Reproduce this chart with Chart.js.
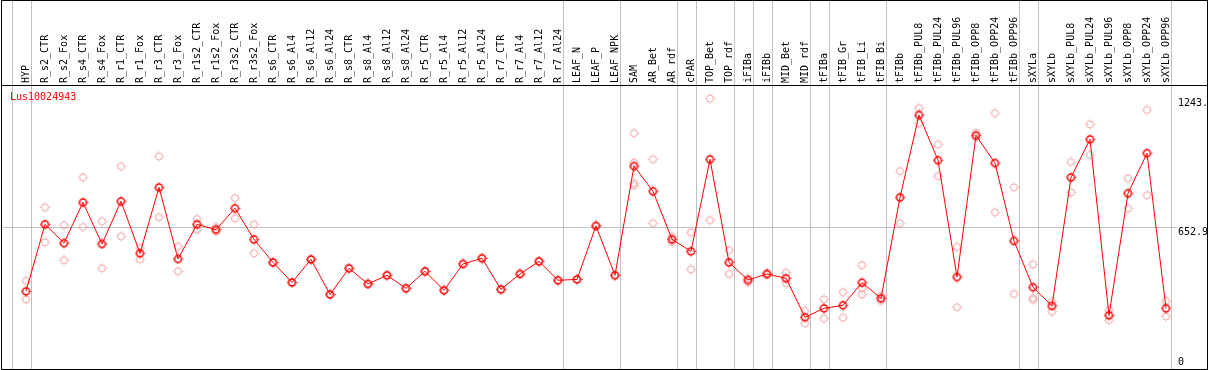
<!DOCTYPE html>
<html>
<head>
<meta charset="utf-8">
<script src="https://cdn.jsdelivr.net/npm/chart.js@4.4.0/dist/chart.umd.min.js"></script>
<style>
  html, body { margin: 0; padding: 0; background: #fff; }
</style>
</head>
<body>
<canvas id="grafico" width="1209" height="370"></canvas>
<script>
const titulo = 'Lus10024943';

const muestras = [
    'HYP', 'R_s2_CTR', 'R_s2_Fox', 'R_s4_CTR', 'R_s4_Fox', 'R_r1_CTR', 'R_r1_Fox',
    'R_r3_CTR', 'R_r3_Fox', 'R_r1s2_CTR', 'R_r1s2_Fox', 'R_r3s2_CTR', 'R_r3s2_Fox',
    'R_s6_CTR', 'R_s6_Al4', 'R_s6_Al12', 'R_s6_Al24', 'R_s8_CTR', 'R_s8_Al4', 'R_s8_Al12',
    'R_s8_Al24', 'R_r5_CTR', 'R_r5_Al4', 'R_r5_Al12', 'R_r5_Al24', 'R_r7_CTR', 'R_r7_Al4',
    'R_r7_Al12', 'R_r7_Al24', 'LEAF_N', 'LEAF_P', 'LEAF_NPK', 'SAM', 'AR_Bet', 'AR_rdf',
    'cPAR', 'TOP_Bet', 'TOP_rdf', 'iFIBa', 'iFIBb', 'MID_Bet', 'MID_rdf', 'tFIBa',
    'tFIB_Gr', 'tFIB_Li', 'tFIB_Bi', 'tFIBb', 'tFIBb_PUL8', 'tFIBb_PUL24', 'tFIBb_PUL96',
    'tFIBb_OPP8', 'tFIBb_OPP24', 'tFIBb_OPP96', 'sXYLa', 'sXYLb', 'sXYLb_PUL8',
    'sXYLb_PUL24', 'sXYLb_PUL96', 'sXYLb_OPP8', 'sXYLb_OPP24', 'sXYLb_OPP96'
];

// media de las replicas (linea roja)
const media = [
    357, 665, 579, 766, 575, 771, 532, 835, 506, 665, 641, 739, 596,
    490, 398, 504, 343, 463, 391, 431, 371, 449, 362, 483, 509, 366, 437, 495, 408,
    412, 658, 431, 933, 817, 596, 541, 964, 490, 409, 437, 417, 238, 279,
    293, 397, 325, 789, 1168, 960, 423, 1074, 947, 589, 376, 290, 881,
    1056, 247, 808, 992, 279
];

// replicas individuales (circulos rosas)
const rep1 = [
    405, 743, 661, 881, 679, 932, 556, 978, 564, 690, 653, 786, 665,
    490, 398, 504, 343, 463, 391, 431, 371, 449, 362, 483, 509, 366, 437, 495, 408,
    412, 658, 431, 1084, 964, 608, 628, 1243.6, 546, 417, 440, 443, 267, 320,
    353, 477, 336, 910, 1199, 1033, 561, 1087, 1176, 835, 481, 310, 952,
    1125, 271, 877, 1191, 313
];
const rep2 = [
    320, 582, 500, 653, 463, 610, 504, 698, 449, 641, 633, 693, 532,
    null, null, null, null, null, null, null, null, null, null, null, null, null, null, null, null,
    null, null, null, 949, 670, 584, 458, 684, 437, 399, 433, 394, 210, 233,
    236, 372, 313, 670, 1130, 886, 284, 1064, 720, 345, 327, 264, 812,
    984, 225, 739, 799, 242
];
const rep3 = [
    null, null, null, null, null, null, null, null, null, null, null, null, null,
    null, null, null, null, null, null, null, null, null, null, null, null, null, null, null, null,
    null, null, null, 854, null, null, null, null, null, null, null, null, null, null,
    null, 343, null, null, null, null, null, null, null, null, 318, null, null,
    null, null, null, null, null
];
const rep4 = [
    null, null, null, null, null, null, null, null, null, null, null, null, null,
    null, null, null, null, null, null, null, null, null, null, null, null, null, null, null, null,
    null, null, null, 843, null, null, null, null, null, null, null, null, null, null,
    null, null, null, null, null, null, null, null, null, null, null, null, null,
    null, null, null, null, null
];

const marcasY = [0, 652.9, 1243.6];
const maxY = 1305.8;

// ultima muestra de cada grupo (lineas grises)
const finGrupo = [-1, 0, 28, 31, 34, 35, 37, 38, 39, 41, 42, 45, 52, 53, 60];

const fuente = { family: "'DejaVu Sans Mono', monospace", size: 10 };

function crearMarcador(color, grosor) {
    const c = document.createElement('canvas');
    c.width = 11;
    c.height = 11;
    const g = c.getContext('2d');
    g.strokeStyle = color;
    g.lineWidth = grosor;
    g.beginPath();
    g.arc(5.5, 5.5, 3.5, 0, Math.PI * 2);
    g.stroke();
    g.fillStyle = color;
    g.fillRect(5, 0.5, 1, 1);
    g.fillRect(5, 9.5, 1, 1);
    g.fillRect(0.5, 5, 1, 1);
    g.fillRect(9.5, 5, 1, 1);
    return c;
}

const marcaMedia = crearMarcador('#ff0000', 1.5);
const marcaRep = crearMarcador('#f0a0a0', 1);

function puntos(serie) {
    return serie.map((v, i) => ({ x: i, y: v }));
}

function sinRelleno(scale) {
    scale.paddingLeft = 0;
    scale.paddingRight = 0;
    scale.paddingTop = 0;
    scale.paddingBottom = 0;
}

const marco = {
    id: 'marco',
    beforeDatasetsDraw(chart) {
        const ctx = chart.ctx;
        const x = chart.scales.x;
        ctx.save();
        ctx.fillStyle = '#c0c0c0';
        finGrupo.forEach(i => {
            const px = Math.round(x.getPixelForValue(i + 0.25));
            ctx.fillRect(px, 0, 1, 369);
        });
        ctx.restore();
    },
    afterDraw(chart) {
        const ctx = chart.ctx;
        ctx.save();
        ctx.strokeStyle = '#000';
        ctx.lineWidth = 1;
        ctx.strokeRect(1.5, 0.5, 1206, 369);
        ctx.fillStyle = '#000';
        ctx.fillRect(1, 85, 1207, 1);
        ctx.fillStyle = '#ff0000';
        ctx.font = "10px 'DejaVu Sans Mono', monospace";
        ctx.textBaseline = 'top';
        ctx.fillText(titulo, 10, 92);
        ctx.restore();
    }
};

const paso = 19;
const minX = (2 - 26) / paso;
const maxX = minX + (1171 - 2) / paso;

new Chart(document.getElementById('grafico'), {
    type: 'line',
    data: {
        datasets: [
            {
                data: puntos(media),
                borderColor: '#ff0000',
                borderWidth: 1,
                tension: 0,
                pointStyle: marcaMedia,
                pointRadius: 4
            },
            {
                data: puntos(rep1),
                showLine: false,
                pointStyle: marcaRep,
                pointRadius: 4
            },
            {
                data: puntos(rep2),
                showLine: false,
                pointStyle: marcaRep,
                pointRadius: 4
            },
            {
                data: puntos(rep3),
                showLine: false,
                pointStyle: marcaRep,
                pointRadius: 4
            },
            {
                data: puntos(rep4),
                showLine: false,
                pointStyle: marcaRep,
                pointRadius: 4
            }
        ]
    },
    options: {
        responsive: false,
        animation: false,
        devicePixelRatio: 1,
        layout: {
            autoPadding: false,
            padding: { left: 2, right: 1, top: 0, bottom: 1 }
        },
        plugins: {
            legend: { display: false },
            tooltip: { enabled: false }
        },
        scales: {
            x: {
                type: 'linear',
                position: 'top',
                min: minX,
                max: maxX,
                afterFit(scale) {
                    scale.height = 85;
                    sinRelleno(scale);
                },
                afterBuildTicks(scale) {
                    scale.ticks = muestras.map((_, i) => ({ value: i }));
                },
                ticks: {
                    autoSkip: false,
                    minRotation: 90,
                    maxRotation: 90,
                    padding: 2,
                    labelOffset: 12,
                    color: '#000',
                    font: fuente,
                    callback: v => muestras[v]
                },
                grid: { display: false, drawTicks: false },
                border: { display: false }
            },
            y: {
                position: 'right',
                min: 0,
                max: maxY,
                afterFit(scale) {
                    scale.width = 37;
                    sinRelleno(scale);
                },
                afterBuildTicks(scale) {
                    scale.ticks = marcasY.map(v => ({ value: v }));
                },
                ticks: {
                    align: 'start',
                    padding: 1,
                    color: '#000',
                    font: fuente,
                    callback: v => v === 0 ? ['0', '', ''] : String(v).slice(0, 5)
                },
                grid: {
                    color: c => (c.tick && c.tick.value === 652.9) ? '#c0c0c0' : 'rgba(0,0,0,0)',
                    tickLength: 6
                },
                border: { display: false }
            }
        }
    },
    plugins: [marco]
});
</script>
</body>
</html>
